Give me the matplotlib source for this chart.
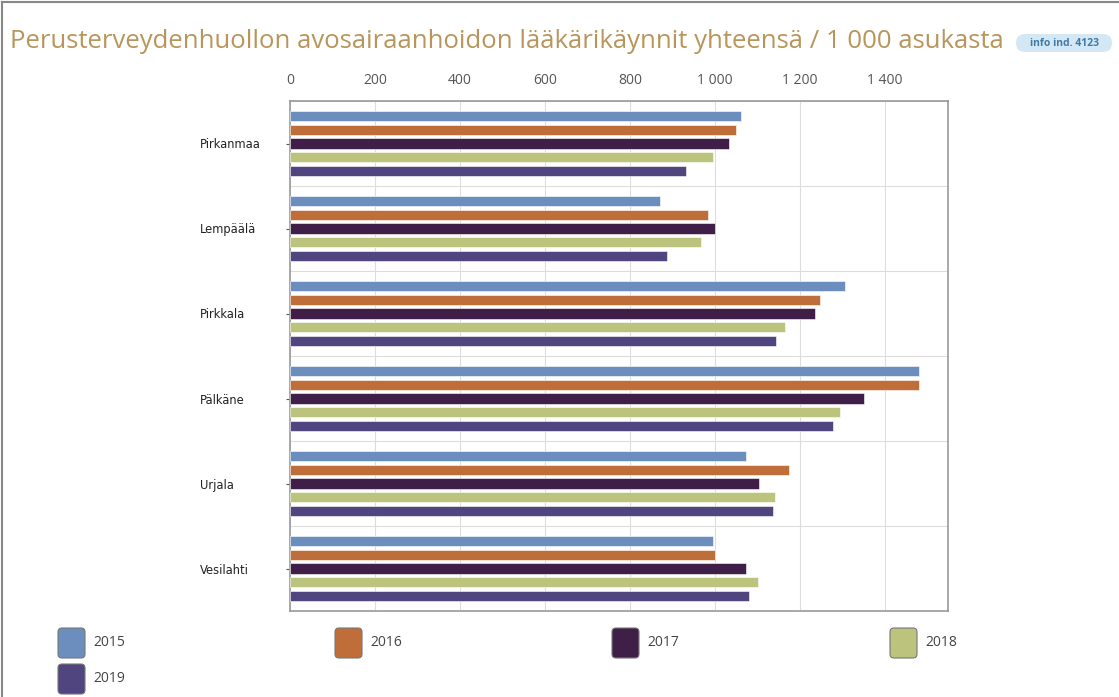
import matplotlib
matplotlib.use('Agg')
import matplotlib.pyplot as plt
from matplotlib.patches import FancyBboxPatch
import numpy as np

# data
regions = ['Pirkanmaa', 'Lempäälä', 'Pirkkala', 'Pälkäne', 'Urjala', 'Vesilahti']
years = ['2015', '2016', '2017', '2018', '2019']
v2015 = [1061, 871, 1306, 1479, 1072, 995]
v2016 = [1049, 984, 1246, 1479, 1173, 1001]
v2017 = [1032, 1000, 1235, 1350, 1104, 1072]
v2018 = [996, 968, 1165, 1295, 1140, 1100]
v2019 = [932, 887, 1144, 1277, 1137, 1079]
series = [v2015, v2016, v2017, v2018, v2019]
colors = ['#6b8ebf', '#bf6e3a', '#3f1f48', '#bcc37c', '#514580']
xticks = [0, 200, 400, 600, 800, 1000, 1200, 1400]
xticklabels = ['0', '200', '400', '600', '800', '1 000', '1 200', '1 400']

W, H = 1119, 697
fig = plt.figure(figsize=(W / 100, H / 100), dpi=100)
fig.patch.set_facecolor('white')

# main axes
ax = fig.add_axes([290 / W, 1 - 611 / H, (948 - 290) / W, (611 - 101) / H])
y = np.arange(len(regions))
for j, vals in enumerate(series):
    ax.barh(y + (j - 2) * 0.16, vals, height=0.118, color=colors[j],
            edgecolor='white', linewidth=0.4, zorder=3)

ax.set_xlim(0, 1548)
ax.set_ylim(len(regions) - 0.5, -0.5)
ax.xaxis.tick_top()
ax.set_xticks(xticks)
ax.set_xticklabels(xticklabels, fontsize=10, color='#555555', family='Open Sans')
ax.tick_params(axis='x', length=0, pad=9)
ax.set_yticks(y)
ax.set_yticklabels(regions, fontsize=8.3, color='#222222', family='DejaVu Sans')
ax.tick_params(axis='y', length=3, pad=61.8, color='#555555')
for lab in ax.get_yticklabels():
    lab.set_ha('left')

ax.set_yticks(np.arange(len(regions) + 1) - 0.5, minor=True)
ax.tick_params(axis='y', which='minor', length=0)
ax.grid(True, axis='x', color='#dddddd', linewidth=0.8, zorder=0)
ax.grid(True, axis='y', which='minor', color='#dddddd', linewidth=0.8, zorder=0)
ax.grid(False, axis='y', which='major')
for s in ax.spines.values():
    s.set_color('#999999')
    s.set_linewidth(1.2)

# overlay in pixel coordinates for title, border and legend
ov = fig.add_axes([0, 0, 1, 1], zorder=-1)
ov.set_xlim(0, W)
ov.set_ylim(H, 0)
ov.axis('off')
ov.plot([2, 2], [2, H], color='#888888', linewidth=1.5)
ov.plot([2, W], [2, 2], color='#888888', linewidth=1.5)

title = fig.text(10 / W, 1 - 42 / H,
                 'Perusterveydenhuollon avosairaanhoidon lääkärikäynnit yhteensä / 1 000 asukasta',
                 fontsize=17, color='#b8955a', family='Open Sans', va='center', ha='left')
fig.canvas.draw()
w = title.get_window_extent().width
title.set_fontsize(17 * 997 / w)

ov.add_patch(FancyBboxPatch((1016, 34), 96, 18, boxstyle='round,pad=0,rounding_size=9',
                            facecolor='#d3e8f4', edgecolor='none'))
ov.text(1064, 43.5, 'info ind. 4123', fontsize=7.5, color='#3f7aa6', fontweight='bold',
        ha='center', va='center', family='Open Sans')

leg_x = [58, 335, 612, 890]
for k, yr in enumerate(years):
    lx = leg_x[k % 4]
    ly = 628 + (k // 4) * 36
    ov.add_patch(FancyBboxPatch((lx, ly), 27, 30, boxstyle='round,pad=0,rounding_size=4',
                                facecolor=colors[k], edgecolor='#777777', linewidth=0.8))
    ov.text(lx + 35, ly + 15, yr, fontsize=10, color='#444444', va='center',
            ha='left', family='Open Sans')

fig.savefig('out.png', dpi=100)
